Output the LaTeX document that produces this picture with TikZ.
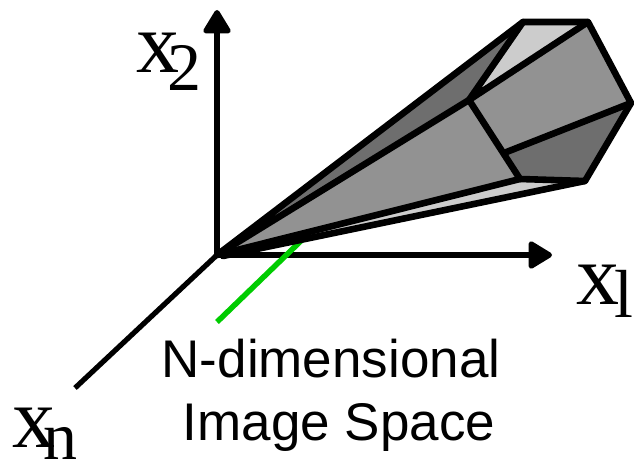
\documentclass[tikz,border=0pt]{standalone}
\usepackage{fontspec}
\setmainfont{Liberation Sans}
\newfontfamily\serifax{Liberation Serif}
\usetikzlibrary{arrows.meta}
\definecolor{facelight}{HTML}{CCCCCC}
\definecolor{facemid}{HTML}{929292}
\definecolor{facedark}{HTML}{6E6E6E}
\definecolor{greenline}{HTML}{00CC00}
\tikzset{
  edge/.style={draw=black,line width=6.6pt,line join=round,line cap=round},
  axis/.style={draw=black,line width=5.2pt},
  axisarrow/.style={axis,-{Triangle[round,length=26pt,width=30pt]}},
  axlabel/.style={inner sep=0pt,anchor=base west,font=\serifax\fontsize{86}{86}\selectfont},
  sublabel/.style={inner sep=0pt,anchor=base west,font=\serifax\fontsize{68}{68}\selectfont},
  caption/.style={inner sep=0pt,anchor=base,font=\fontsize{53}{53}\selectfont},
}
\begin{document}
\begin{tikzpicture}[x=1pt,y=-1pt]
\useasboundingbox (0,0) rectangle (634,460);
\coordinate (O) at (217,255);
\coordinate (OL) at (223,256);
\coordinate (XT) at (217,10);
\coordinate (XR) at (552,255);
\coordinate (XN) at (75,388);
\coordinate (GA) at (217,322);
\coordinate (GB) at (305,237);
\coordinate (A) at (523,22);
\coordinate (B) at (588,22);
\coordinate (C) at (631,103);
\coordinate (D) at (585,181);
\coordinate (E) at (520,179);
\coordinate (F) at (469,100);
\coordinate (G) at (504,153);
\draw[axisarrow] (O) -- (XT);
\draw[axisarrow] (O) -- (XR);
\draw[axis] (O) -- (XN);
\draw[draw=greenline,line width=5.5pt] (GA) -- (GB);
\fill[facelight] (O) -- (E) -- (D) -- cycle;
\fill[facedark] (O) -- (A) -- (F) -- cycle;
\fill[facelight] (A) -- (B) -- (F) -- cycle;
\fill[facemid] (F) -- (B) -- (C) -- (G) -- cycle;
\fill[facedark] (G) -- (C) -- (D) -- (E) -- cycle;
\fill[facemid] (O) -- (F) -- (E) -- cycle;
\path[edge] (O) -- (A) -- (B) -- (C) -- (D) -- (E) -- (F) -- cycle;
\path[edge] (O) -- (E);
\path[edge] (OL) -- (D);
\path[edge] (A) -- (F) -- (B);
\path[edge] (G) -- (C);
\node[axlabel] (lx2) at (136,73) {x};
\node[sublabel] (lx2s) at (167,90) {2};
\node[axlabel] (lx1) at (576,304) {x};
\node[sublabel] (lx1s) at (614,317) {l};
\node[axlabel] (lxn) at (12,447) {x};
\node[sublabel] (lxns) at (43,459) {n};
\node[caption] (c1) at (331,377) {N-dimensional};
\node[caption] (c2) at (339,440) {Image Space};
\end{tikzpicture}
\end{document}
